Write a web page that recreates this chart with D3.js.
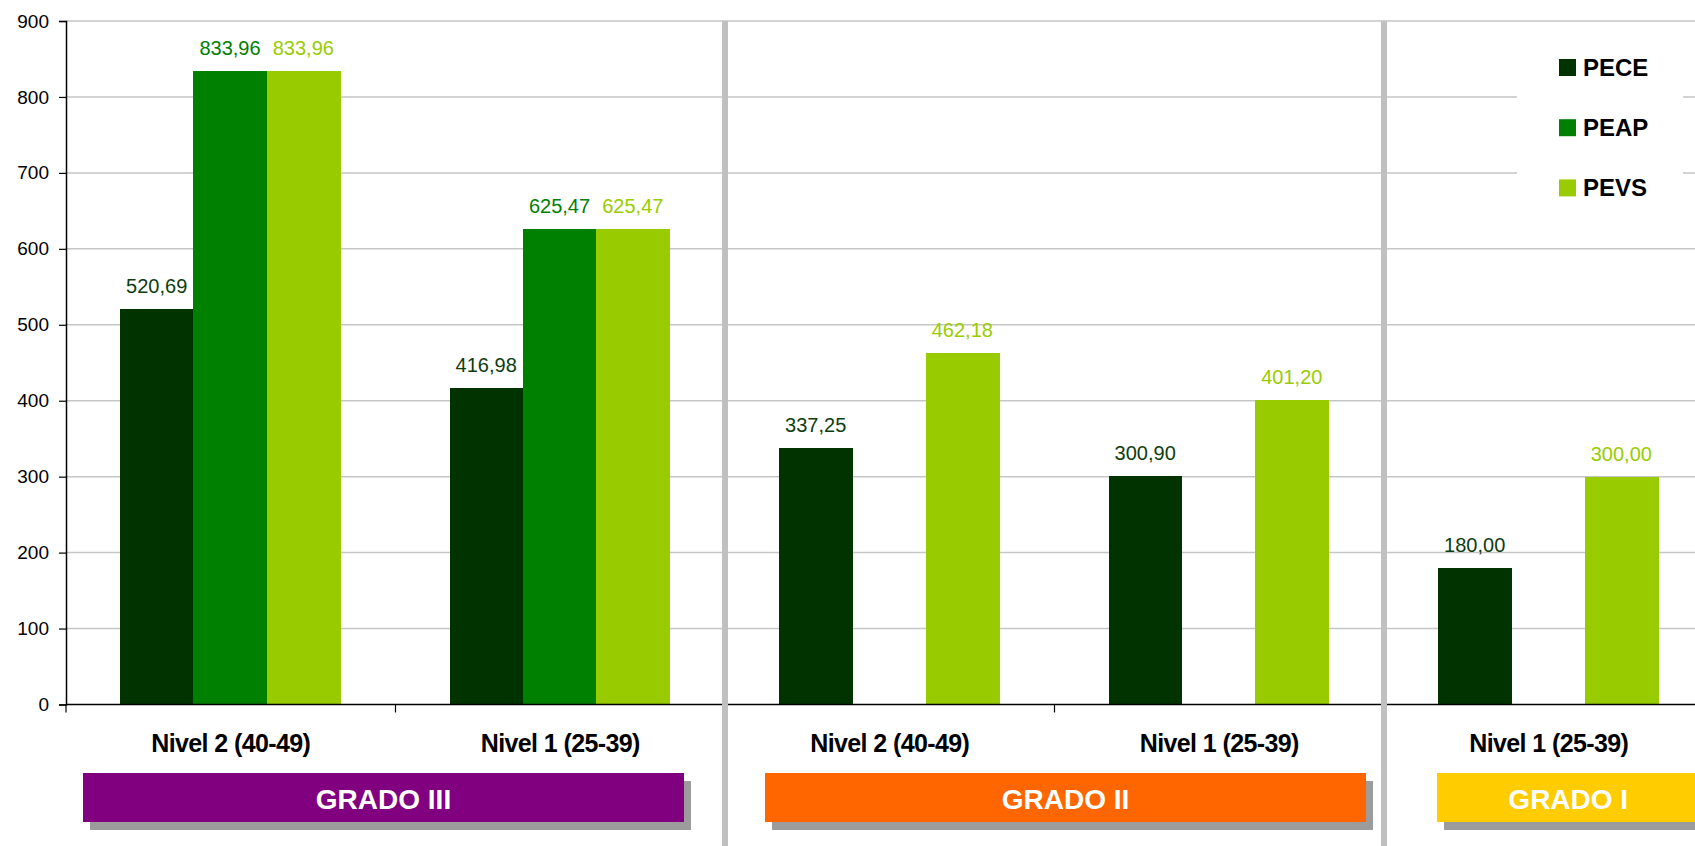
<!DOCTYPE html>
<html>
<head>
<meta charset="utf-8">
<script src="https://cdn.jsdelivr.net/npm/d3@7"></script>
<style>
  body { margin: 0; background: #fff; }
  svg { display: block; font-family: Arial, "Liberation Sans", sans-serif; }
</style>
</head>
<body>
<div id="chart"></div>
<script>
// categories (one per column on the x axis)
var categories = ["Nivel 2 (40-49)", "Nivel 1 (25-39)", "Nivel 2 (40-49)", "Nivel 1 (25-39)", "Nivel 1 (25-39)"];
var seriesNames = ["PECE", "PEAP", "PEVS"];
// series values (null = no bar)
var peceValues = [520.69, 416.98, 337.25, 300.90, 180.00];
var peapValues = [833.96, 625.47, null, null, null];
var pevsValues = [833.96, 625.47, 462.18, 401.20, 300.00];
var yTicks = [0, 100, 200, 300, 400, 500, 600, 700, 800, 900];
// grade groups: label and which columns they span
var gradeNames = ["GRADO III", "GRADO II", "GRADO I"];
var gradeSpans = [[0, 1], [2, 3], [4, 4]];

// styles / layout (kept apart from the data)
var seriesColors = { PECE: "#003300", PEAP: "#008000", PEVS: "#99cc00" };
var gradeColors = ["#800080", "#ff6600", "#ffcc00"];
var boxInsets = [[17, 41], [40, 18], [53, 14]];

var chartW = 1695, chartH = 846;
var plotLeft = 66, plotTop = 21, plotBottom = 704.5;
var step = 329.5;

var svg = d3.select("#chart").append("svg")
    .attr("width", chartW)
    .attr("height", chartH);

var x0 = d3.scaleBand()
    .domain(d3.range(categories.length))
    .range([plotLeft, plotLeft + step * categories.length])
    .padding(0);

var x1 = d3.scaleBand()
    .domain(seriesNames)
    .range([54, 54 + 220])
    .padding(0);

var y = d3.scaleLinear().domain([0, 900]).range([plotBottom, plotTop]);

var locale = d3.formatLocale({ decimal: ",", thousands: ".", grouping: [3], currency: ["", "€"] });
var fmt = locale.format(".2f");

// gridlines
svg.append("g").selectAll("line")
    .data(yTicks.filter(function(d) { return d > 0; }))
    .enter().append("line")
        .attr("x1", plotLeft).attr("x2", chartW)
        .attr("y1", function(d) { return y(d); })
        .attr("y2", function(d) { return y(d); })
        .attr("stroke", "#c6c6c6")
        .attr("stroke-width", 1.5);

// legend background hides gridlines behind it
svg.append("rect")
    .attr("x", 1517).attr("y", 36)
    .attr("width", 166).attr("height", 186)
    .attr("fill", "#fff");

// bars
var rows = [];
categories.forEach(function(c, i) {
    rows.push({ cat: i, key: "PECE", value: peceValues[i] });
    rows.push({ cat: i, key: "PEAP", value: peapValues[i] });
    rows.push({ cat: i, key: "PEVS", value: pevsValues[i] });
});
rows = rows.filter(function(d) { return d.value !== null; });

svg.append("g").selectAll("rect")
    .data(rows)
    .enter().append("rect")
        .attr("x", function(d) { return x0(d.cat) + x1(d.key); })
        .attr("y", function(d) { return y(d.value); })
        .attr("width", x1.bandwidth() + 0.5)
        .attr("height", function(d) { return y(0) - y(d.value); })
        .attr("fill", function(d) { return seriesColors[d.key]; })
        .attr("shape-rendering", "crispEdges");

// value labels
svg.append("g").selectAll("text")
    .data(rows)
    .enter().append("text")
        .attr("x", function(d) { return x0(d.cat) + x1(d.key) + x1.bandwidth() / 2; })
        .attr("y", function(d) { return y(d.value) - 16; })
        .attr("text-anchor", "middle")
        .attr("font-size", 20)
        .attr("fill", function(d) { return d.key === "PECE" ? "#0d3d0d" : seriesColors[d.key]; })
        .text(function(d) { return fmt(d.value); });

// y axis
var yAxis = svg.append("g")
    .attr("transform", "translate(" + plotLeft + ",0)")
    .call(d3.axisLeft(y).tickValues(yTicks).tickSize(7).tickPadding(10));
yAxis.select(".domain").attr("stroke", "#000").attr("stroke-width", 1.5);
yAxis.selectAll(".tick line").attr("stroke", "#000").attr("stroke-width", 1.2);
yAxis.selectAll(".tick text").attr("font-size", 19).attr("fill", "#000")
    .attr("font-family", "Arial, 'Liberation Sans', sans-serif");

// x axis line and boundary ticks
svg.append("line")
    .attr("x1", plotLeft).attr("x2", chartW)
    .attr("y1", plotBottom).attr("y2", plotBottom)
    .attr("stroke", "#000").attr("stroke-width", 1.5);
svg.append("g").selectAll("line")
    .data(d3.range(categories.length))
    .enter().append("line")
        .attr("x1", function(d) { return x0(d); })
        .attr("x2", function(d) { return x0(d); })
        .attr("y1", plotBottom).attr("y2", plotBottom + 8)
        .attr("stroke", "#000").attr("stroke-width", 1.2);

// category labels
svg.append("g").selectAll("text")
    .data(categories)
    .enter().append("text")
        .attr("x", function(d, i) { return x0(i) + x0.bandwidth() / 2; })
        .attr("y", 751.5)
        .attr("text-anchor", "middle")
        .attr("font-size", 25)
        .attr("font-weight", "bold")
        .attr("letter-spacing", "-0.6px")
        .attr("fill", "#000")
        .text(function(d) { return d; });

// separators between grades
svg.append("g").selectAll("line")
    .data(gradeSpans.slice(1))
    .enter().append("line")
        .attr("x1", function(d) { return x0(d[0]); })
        .attr("x2", function(d) { return x0(d[0]); })
        .attr("y1", plotTop).attr("y2", chartH)
        .attr("stroke", "#c0c0c0")
        .attr("stroke-width", 6);

// grade boxes with shadow
var boxes = svg.append("g").selectAll("g")
    .data(gradeNames)
    .enter().append("g");
function boxX(i) { return x0(gradeSpans[i][0]) + boxInsets[i][0]; }
function boxW(i) { return x0(gradeSpans[i][1]) + x0.bandwidth() - boxInsets[i][1] - boxX(i); }
boxes.append("rect")
    .attr("x", function(d, i) { return boxX(i) + 7; })
    .attr("y", 781)
    .attr("width", function(d, i) { return boxW(i); })
    .attr("height", 49)
    .attr("fill", "#9c9c9c");
boxes.append("rect")
    .attr("x", function(d, i) { return boxX(i); })
    .attr("y", 773)
    .attr("width", function(d, i) { return boxW(i); })
    .attr("height", 49)
    .attr("fill", function(d, i) { return gradeColors[i]; });
boxes.append("text")
    .attr("x", function(d, i) { return boxX(i) + boxW(i) / 2; })
    .attr("y", 809)
    .attr("text-anchor", "middle")
    .attr("font-size", 28)
    .attr("font-weight", "bold")
    .attr("fill", "#fff")
    .text(function(d) { return d; });

// legend
var legend = svg.append("g").selectAll("g")
    .data(seriesNames)
    .enter().append("g")
        .attr("transform", function(d, i) { return "translate(1559," + (59 + i * 60.2) + ")"; });
legend.append("rect")
    .attr("width", 17).attr("height", 17)
    .attr("fill", function(d) { return seriesColors[d]; });
legend.append("text")
    .attr("x", 24).attr("y", 17)
    .attr("font-size", 24)
    .attr("font-weight", "bold")
    .attr("fill", "#000")
    .text(function(d) { return d; });
</script>
</body>
</html>
